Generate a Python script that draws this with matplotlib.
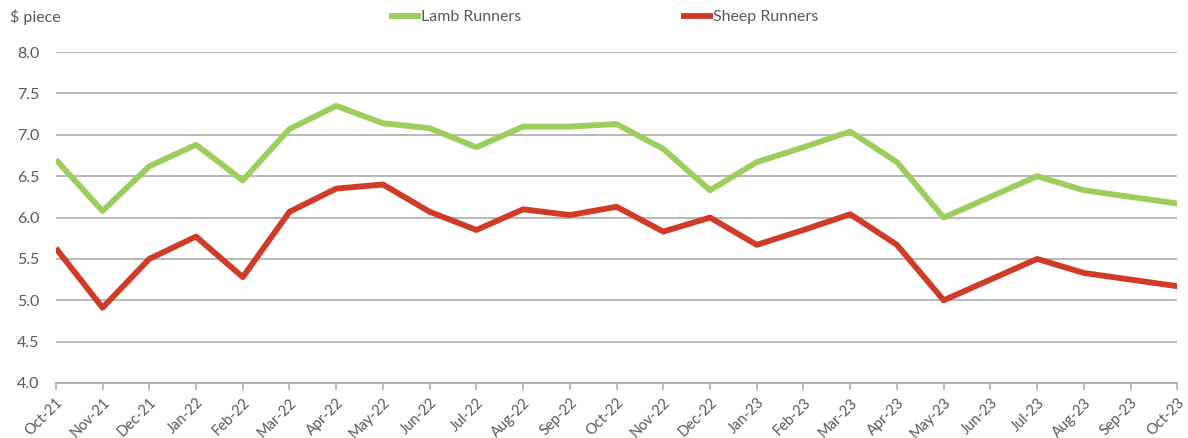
import matplotlib.pyplot as plt
import numpy as np

months = ["Oct-21", "Nov-21", "Dec-21", "Jan-22", "Feb-22", "Mar-22", "Apr-22",
          "May-22", "Jun-22", "Jul-22", "Aug-22", "Sep-22", "Oct-22", "Nov-22",
          "Dec-22", "Jan-23", "Feb-23", "Mar-23", "Apr-23", "May-23", "Jun-23",
          "Jul-23", "Aug-23", "Sep-23", "Oct-23"]
lamb = [6.70, 6.08, 6.62, 6.88, 6.45, 7.07, 7.35, 7.14, 7.08, 6.85, 7.10, 7.10,
        7.13, 6.83, 6.33, 6.67, 6.85, 7.04, 6.67, 6.00, 6.25, 6.50, 6.33, 6.25, 6.17]
sheep = [5.63, 4.91, 5.50, 5.77, 5.28, 6.07, 6.35, 6.40, 6.07, 5.85, 6.10, 6.03,
         6.13, 5.83, 6.00, 5.67, 5.85, 6.04, 5.67, 5.00, 5.25, 5.50, 5.33, 5.25, 5.17]

plt.rcParams['font.family'] = ['Lato', 'DejaVu Sans']
txt = '#58595b'
grid = '#a6a6a6'

fig = plt.figure(figsize=(11.88, 4.38), dpi=100)
ax = fig.add_axes([0.047, 0.1256, 0.944, 0.7554])

x = np.arange(len(months))
ax.plot(x, lamb, color='#9dcd5d', lw=4.2, label='Lamb Runners', solid_capstyle='butt')
ax.plot(x, sheep, color='#d03a27', lw=4.2, label='Sheep Runners', solid_capstyle='butt')

ax.set_xlim(0, len(months) - 1)
ax.set_ylim(4.0, 8.0)
ax.set_yticks(np.arange(4.0, 8.01, 0.5))
ax.set_yticklabels([f"{v:.1f}" for v in np.arange(4.0, 8.01, 0.5)])
ax.yaxis.grid(True, color=grid, lw=1.1)
ax.set_axisbelow(True)
ax.tick_params(axis='y', length=0, labelsize=11.5, labelcolor=txt, pad=12)
ax.set_xticks(x)
ax.set_xticklabels(months, rotation=45, ha='right', rotation_mode='anchor')
ax.tick_params(axis='x', length=5, color=grid, width=1.1, labelsize=10.5, labelcolor=txt, pad=4)
for s in ['top', 'right', 'left']:
    ax.spines[s].set_visible(False)
ax.spines['bottom'].set_color(grid)
ax.spines['bottom'].set_linewidth(1.1)

fig.text(0.008, 0.961, "$ piece", fontsize=11.5, color=txt, va='center')
fig.legend(loc='center', bbox_to_anchor=(0.508, 0.961), ncol=2, frameon=False,
           fontsize=11.5, handlelength=2.0, handletextpad=0.0, columnspacing=10.0,
           labelcolor=txt)

fig.savefig('out.png', dpi=100)
